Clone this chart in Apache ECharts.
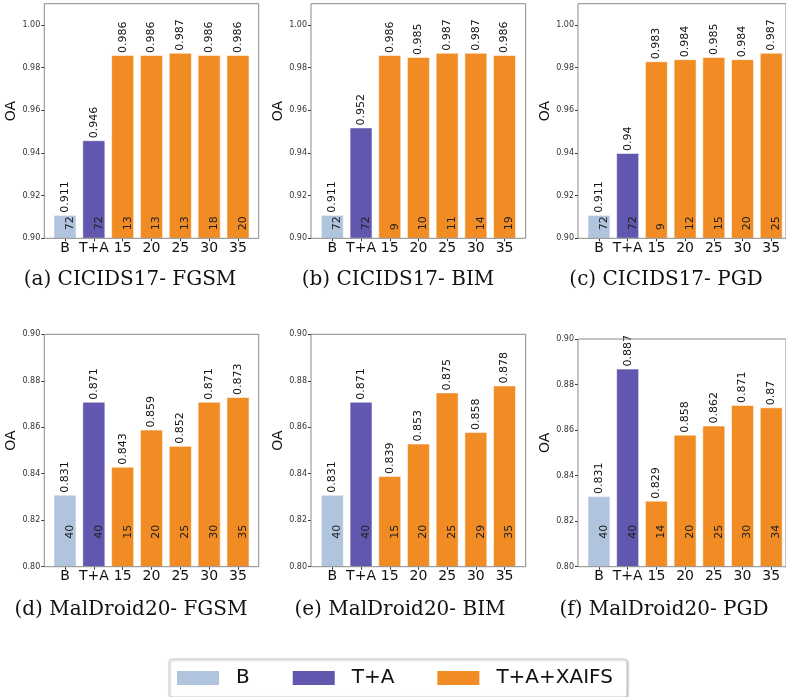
<!DOCTYPE html>
<html>
<head>
<meta charset="utf-8">
<script src="https://cdn.jsdelivr.net/npm/echarts@6/dist/echarts.min.js"></script>
<style>
  html, body { margin: 0; background: #fff; }
  #chart { width: 786px; height: 697px; }
</style>
</head>
<body>
<div id="chart"></div>
<script>
// x categories and which legend group each bar belongs to
const categories = ['B', 'T+A', '15', '20', '25', '30', '35']
const groups = ['B', 'T+A', 'T+A+XAIFS', 'T+A+XAIFS', 'T+A+XAIFS', 'T+A+XAIFS', 'T+A+XAIFS']
const legendNames = ['B', 'T+A', 'T+A+XAIFS']

// OA values (top labels) and feature counts (inside labels)
const oaCicFgsm = [0.911, 0.946, 0.986, 0.986, 0.987, 0.986, 0.986]
const nCicFgsm = [72, 72, 13, 13, 13, 18, 20]
const oaCicBim = [0.911, 0.952, 0.986, 0.985, 0.987, 0.987, 0.986]
const nCicBim = [72, 72, 9, 10, 11, 14, 19]
const oaCicPgd = [0.911, 0.94, 0.983, 0.984, 0.985, 0.984, 0.987]
const nCicPgd = [72, 72, 9, 12, 15, 20, 25]
const oaMalFgsm = [0.831, 0.871, 0.843, 0.859, 0.852, 0.871, 0.873]
const nMalFgsm = [40, 40, 15, 20, 25, 30, 35]
const oaMalBim = [0.831, 0.871, 0.839, 0.853, 0.875, 0.858, 0.878]
const nMalBim = [40, 40, 15, 20, 25, 29, 35]
const oaMalPgd = [0.831, 0.887, 0.829, 0.858, 0.862, 0.871, 0.87]
const nMalPgd = [40, 40, 14, 20, 25, 30, 34]

const captions = [
  '(a) CICIDS17- FGSM', '(b) CICIDS17- BIM', '(c) CICIDS17- PGD',
  '(d) MalDroid20- FGSM', '(e) MalDroid20- BIM', '(f) MalDroid20- PGD',
]
const cicTicks = [0.90, 0.92, 0.94, 0.96, 0.98, 1.00]
const malTicks = [0.80, 0.82, 0.84, 0.86, 0.88, 0.90]

const panels = [
  { oa: oaCicFgsm, n: nCicFgsm, min: 0.90, max: 1.01, ticks: cicTicks },
  { oa: oaCicBim, n: nCicBim, min: 0.90, max: 1.01, ticks: cicTicks },
  { oa: oaCicPgd, n: nCicPgd, min: 0.90, max: 1.01, ticks: cicTicks },
  { oa: oaMalFgsm, n: nMalFgsm, min: 0.80, max: 0.90, ticks: malTicks },
  { oa: oaMalBim, n: nMalBim, min: 0.80, max: 0.90, ticks: malTicks },
  { oa: oaMalPgd, n: nMalPgd, min: 0.80, max: 0.90, ticks: malTicks },
]

// layout: frame box, inner band area, caption position, count label distance
const layout = [
  { fl: 44.3, fr: 258.7, top: 3.7, bottom: 238.3, dl: 50.6, dw: 201.8, cx: 130, cy: 270, nd: 8 },
  { fl: 311, fr: 525.7, top: 3.7, bottom: 238.3, dl: 318, dw: 200.9, cx: 398, cy: 270, nd: 8 },
  { fl: 578, fr: 792.5, top: 3.7, bottom: 238.3, dl: 584.6, dw: 201, cx: 666, cy: 270, nd: 8 },
  { fl: 44.3, fr: 258.7, top: 334.3, bottom: 566.7, dl: 50.6, dw: 201.8, cx: 131, cy: 600, nd: 28 },
  { fl: 311, fr: 525.7, top: 334.3, bottom: 566.7, dl: 318, dw: 200.9, cx: 400, cy: 600, nd: 28 },
  { fl: 578, fr: 792.5, top: 339, bottom: 566.7, dl: 584.6, dw: 201, cx: 664, cy: 600, nd: 28 },
]

const colors = { 'B': '#b0c4de', 'T+A': '#6157ae', 'T+A+XAIFS': '#f18b23' }
const font = 'DejaVu Sans'

const grids = []
const xAxes = []
const yAxes = []
const series = []
const titles = []

panels.forEach((p, i) => {
  const l = layout[i]
  const h = l.bottom - l.top
  grids.push({ left: l.dl, top: l.top, width: l.dw, height: h })
  xAxes.push({
    gridIndex: i,
    type: 'category',
    data: categories,
    axisLine: { show: false },
    axisTick: { show: true, alignWithLabel: true, length: 3, lineStyle: { color: '#333' } },
    axisLabel: { interval: 0, margin: 3, fontSize: 14, color: '#111', fontFamily: font },
  })
  yAxes.push({
    gridIndex: i,
    type: 'value',
    min: p.min,
    max: p.max,
    interval: 0.02,
    offset: l.dl - l.fl,
    axisLine: { show: false },
    splitLine: { show: false },
    axisTick: { show: true, length: 3, customValues: p.ticks, lineStyle: { color: '#333' } },
    axisLabel: {
      customValues: p.ticks,
      showMinLabel: true,
      showMaxLabel: true,
      margin: 4,
      fontSize: 8,
      color: '#333',
      fontFamily: font,
      formatter: (v) => v.toFixed(2),
    },
    name: 'OA',
    nameLocation: 'middle',
    nameGap: 25,
    nameTextStyle: { fontSize: 14, color: '#111', fontFamily: font, padding: [0, 0, 0, 20] },
  })
  legendNames.forEach((g) => {
    series.push({
      name: g,
      type: 'bar',
      xAxisIndex: i,
      yAxisIndex: i,
      barWidth: '80%',
      barGap: '-100%',
      data: p.oa.map((v, k) => (groups[k] === g ? v : '-')),
      itemStyle: { color: colors[g], borderColor: 'rgba(255,255,255,0.55)', borderWidth: 1 },
      label: {
        show: true,
        position: 'top',
        distance: 2,
        rotate: 90,
        align: 'left',
        verticalAlign: 'middle',
        fontSize: 11,
        color: '#111',
        fontFamily: font,
        formatter: (d) => String(d.value),
      },
    })
  })
  series.push({
    name: 'count',
    type: 'bar',
    xAxisIndex: i,
    yAxisIndex: i,
    barWidth: '80%',
    barGap: '-100%',
    silent: true,
    data: p.oa,
    itemStyle: { color: 'rgba(0,0,0,0)' },
    label: {
      show: true,
      position: 'insideBottom',
      distance: l.nd,
      rotate: 90,
      align: 'left',
      verticalAlign: 'middle',
      offset: [0, 5],
      fontSize: 11,
      color: '#222',
      fontFamily: font,
      formatter: (d) => String(p.n[d.dataIndex]),
    },
  })
  titles.push({
    text: captions[i],
    left: l.cx,
    top: l.cy,
    textAlign: 'center',
    padding: 0,
    textStyle: { fontFamily: 'DejaVu Serif', fontSize: 20, fontWeight: 'normal', color: '#111' },
  })
})

// frame boxes (axes spines) drawn as bordered grids
layout.forEach((l) => {
  grids.push({
    show: true,
    left: l.fl,
    top: l.top,
    width: l.fr - l.fl,
    height: l.bottom - l.top,
    borderColor: '#8a8a8a',
    borderWidth: 1,
    backgroundColor: 'transparent',
    z: 5,
  })
})

const chart = echarts.init(document.getElementById('chart'))
chart.setOption({
  animation: false,
  backgroundColor: '#fff',
  title: titles,
  grid: grids,
  xAxis: xAxes,
  yAxis: yAxes,
  series,
  legend: {
    data: legendNames,
    left: 169,
    top: 659,
    icon: 'rect',
    itemWidth: 42,
    itemHeight: 14,
    itemGap: 43,
    selectedMode: false,
    padding: [9, 14, 9, 8],
    borderColor: '#cfcfcf',
    borderWidth: 1,
    borderRadius: 3,
    backgroundColor: '#fff',
    shadowColor: 'rgba(0,0,0,0.25)',
    shadowBlur: 2,
    shadowOffsetX: 1,
    shadowOffsetY: 1,
    itemStyle: { borderWidth: 0 },
    textStyle: { fontSize: 20, color: '#111', fontFamily: font, padding: [0, 0, 0, 12] },
  },
})
</script>
</body>
</html>
